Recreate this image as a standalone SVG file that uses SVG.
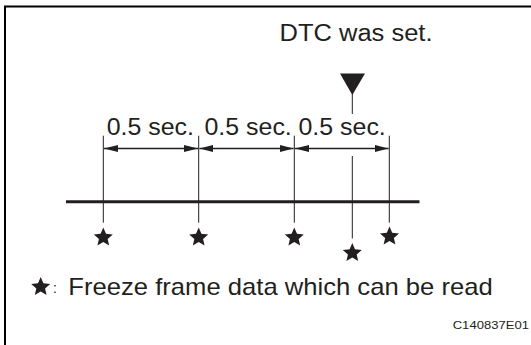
<svg xmlns="http://www.w3.org/2000/svg" width="531" height="345" viewBox="0 0 531 345">
<style>
.t{font-family:"Liberation Sans",Arial,sans-serif;fill:#231f20}
.v{stroke:#231f20;stroke-width:1;fill:none}
.a{stroke:#231f20;stroke-width:1.3;fill:none}
.st{fill:#231f20}
</style>
<defs>
<polygon id="star" points="0,-10 2.7,-3.72 9.51,-3.09 4.37,1.42 5.88,8.09 0,4.6 -5.88,8.09 -4.37,1.42 -9.51,-3.09 -2.7,-3.72"/>
<marker id="ah" viewBox="0 0 14 7" refX="14" refY="3.5" markerWidth="14" markerHeight="7" markerUnits="userSpaceOnUse" orient="auto-start-reverse">
<path d="M0,0 L14,3.5 L0,7 z" fill="#231f20"/>
</marker>
</defs>
<rect x="5" y="6.5" width="600" height="400" fill="none" stroke="#000" stroke-width="2"/>
<g id="dtc-label">
<text class="t" x="279.5" y="41" font-size="23.5" textLength="153" lengthAdjust="spacingAndGlyphs">DTC was set.</text>
<polygon class="st" points="340,73.5 365,73.5 352.3,95"/>
</g>
<g id="timeline">
<line x1="66" y1="201.7" x2="419.5" y2="201.7" stroke="#231f20" stroke-width="3"/>
</g>
<g id="connectors">
<line class="v" x1="103.3" y1="135.7" x2="103.3" y2="222.7"/>
<line class="v" x1="198.7" y1="135.7" x2="198.7" y2="222.7"/>
<line class="v" x1="294.3" y1="135.7" x2="294.3" y2="222.7"/>
<line class="v" x1="389.3" y1="135.7" x2="389.3" y2="222.7"/>
<line class="v" x1="352.3" y1="94" x2="352.3" y2="114"/>
<line class="v" x1="352.3" y1="156" x2="352.3" y2="238.5"/>
<line class="a" x1="104" y1="148.5" x2="198" y2="148.5" marker-start="url(#ah)" marker-end="url(#ah)"/>
<line class="a" x1="199.4" y1="148.5" x2="293.6" y2="148.5" marker-start="url(#ah)" marker-end="url(#ah)"/>
<line class="a" x1="295" y1="148.5" x2="388.6" y2="148.5" marker-start="url(#ah)" marker-end="url(#ah)"/>
</g>
<g id="interval-labels">
<text class="t" x="106.7" y="135" font-size="23.5" textLength="87.3" lengthAdjust="spacingAndGlyphs">0.5 sec.</text>
<text class="t" x="204.5" y="135" font-size="23.5" textLength="87.3" lengthAdjust="spacingAndGlyphs">0.5 sec.</text>
<text class="t" x="298.5" y="135" font-size="23.5" textLength="87.3" lengthAdjust="spacingAndGlyphs">0.5 sec.</text>
</g>
<g id="stars">
<use href="#star" class="st" x="103.3" y="237.5"/>
<use href="#star" class="st" x="198.7" y="237.5"/>
<use href="#star" class="st" x="294.3" y="237.5"/>
<use href="#star" class="st" x="352.3" y="253"/>
<use href="#star" class="st" x="389.5" y="236.5"/>
</g>
<g id="legend">
<use href="#star" class="st" transform="translate(40.7,287)"/>
<text class="t" x="53" y="293" font-size="14">:</text>
<text class="t" x="68.3" y="295" font-size="24" textLength="424.4" lengthAdjust="spacingAndGlyphs">Freeze frame data which can be read</text>
</g>
<g id="code">
<text class="t" x="452.7" y="329.3" font-size="11" textLength="76.3" lengthAdjust="spacingAndGlyphs">C140837E01</text>
</g>
</svg>
